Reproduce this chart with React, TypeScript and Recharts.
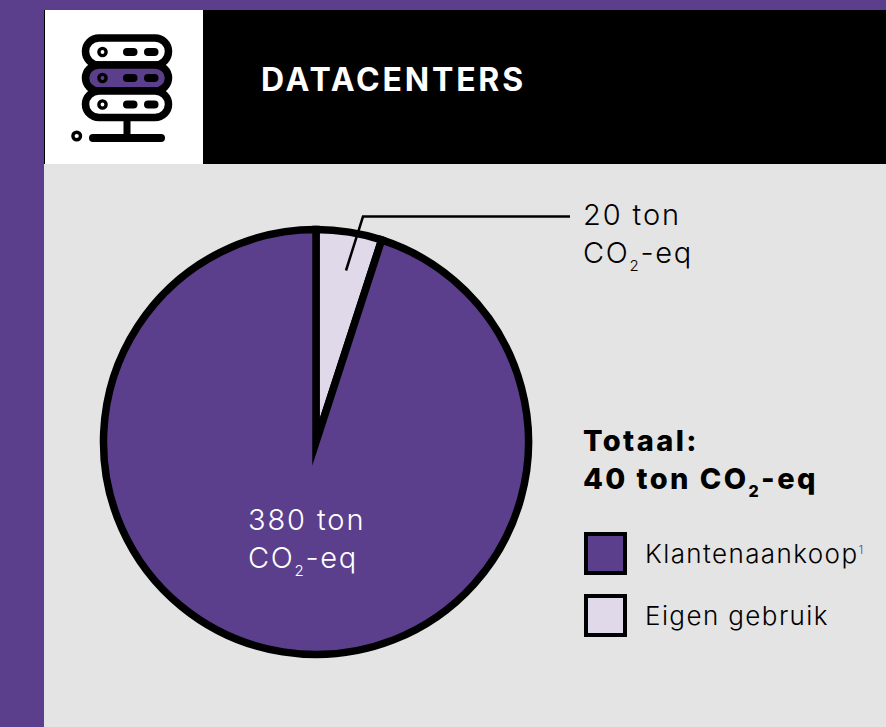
import { PieChart, Pie, Cell, Legend } from "recharts"

const PURPLE = "#5b3f8c"
const LILAC = "#dfd9ea"
const GREY = "#e4e4e4"
const FONT = "Inter, 'Open Sans', sans-serif"

const TITLE = "DATACENTERS"
const TOTAL_LINES = ["Totaal:", "40 ton"]
const UNIT = ["CO", "2", "-eq"]

// clockwise from 12 o'clock, the small slice comes first
const categories = ["Eigen gebruik", "Klantenaankoop"]
const values = [20, 380]
const colors = [LILAC, PURPLE]
const legendOrder = ["Klantenaankoop", "Eigen gebruik"]
const footnotes: Record<string, string> = { Klantenaankoop: "1" }

const data = categories.map((name, i) => ({ name, value: values[i] }))

function UnitText({ x, y, fill }: { x: number; y: number; fill: string }) {
  return (
    <text x={x} y={y} fill={fill} fontFamily={FONT} fontSize={29} fontWeight={300} letterSpacing={1.7}>
      {UNIT[0]}
      <tspan fontSize={15} dy={8}>{UNIT[1]}</tspan>
      <tspan dy={-8}>{UNIT[2]}</tspan>
    </text>
  )
}

function renderLabel(props: any) {
  const { cx, cy, index, value } = props
  if (index === 0) {
    return (
      <g>
        <polyline
          points={`${cx + 30},${cy - 171.5} ${cx + 47},${cy - 225.5} ${cx + 254},${cy - 225.5}`}
          fill="none"
          stroke="#000"
          strokeWidth={2.5}
        />
        <text x={cx + 267} y={cy - 217} fill="#000" fontFamily={FONT} fontSize={29} fontWeight={300} letterSpacing={1.9}>
          {value} ton
        </text>
        <UnitText x={cx + 267} y={cy - 179} fill="#000" />
      </g>
    )
  }
  return (
    <g>
      <text x={cx - 68} y={cy + 88} fill="#fff" fontFamily={FONT} fontSize={29} fontWeight={300} letterSpacing={1.9}>
        {value} ton
      </text>
      <UnitText x={cx - 68} y={cy + 126} fill="#fff" />
    </g>
  )
}

function SideLegend() {
  return (
    <div style={{ position: "relative", width: 886, height: 727, fontFamily: FONT, color: "#000" }}>
      <div style={{ position: "absolute", left: 583, top: 422, fontSize: 29, fontWeight: 800, lineHeight: "38px", letterSpacing: 2.4, whiteSpace: "nowrap" }}>
        <div>{TOTAL_LINES[0]}</div>
        <div>
          {TOTAL_LINES[1]} {UNIT[0]}
          <span style={{ fontSize: 16, position: "relative", top: 8 }}>{UNIT[1]}</span>
          {UNIT[2]}
        </div>
      </div>
      {legendOrder.map((name, i) => (
        <div key={name} style={{ position: "absolute", left: 584, top: 532 + i * 61.5, height: 43, display: "flex", alignItems: "center" }}>
          <div
            style={{
              width: 43,
              height: 43,
              boxSizing: "border-box",
              border: "4px solid #000",
              background: colors[categories.indexOf(name)],
            }}
          />
          <span style={{ marginLeft: 18, fontSize: 26, fontWeight: 300, letterSpacing: 1.4, whiteSpace: "nowrap" }}>
            {name}
            {footnotes[name] && (
              <span style={{ fontSize: 12, color: PURPLE, letterSpacing: 0, position: "relative", top: -9 }}>{footnotes[name]}</span>
            )}
          </span>
        </div>
      ))}
    </div>
  )
}

function ServerIcon() {
  const racks = [
    { y: 38, h: 27, fill: "#fff", dot: 52 },
    { y: 65, h: 26, fill: PURPLE, dot: 78 },
    { y: 91, h: 26.5, fill: "#fff", dot: 104.5 },
  ]
  return (
    <svg width={886} height={164} style={{ position: "absolute", left: 0, top: 0 }}>
      {racks.map((r) => (
        <g key={r.y}>
          <rect x={85.5} y={r.y} width={83} height={r.h} rx={13.5} fill={r.fill} stroke="#000" strokeWidth={7.5} />
          <circle cx={102.5} cy={r.dot} r={3.6} fill="none" stroke="#000" strokeWidth={3.4} />
          <rect x={123} y={r.dot - 4} width={14.5} height={8} rx={4} fill="#000" />
          <rect x={144} y={r.dot - 4} width={14.5} height={8} rx={4} fill="#000" />
        </g>
      ))}
      <rect x={123.5} y={118} width={7} height={20} fill="#000" />
      <rect x={89} y={134} width={76} height={8} rx={4} fill="#000" />
      <circle cx={76.7} cy={136} r={3.8} fill="none" stroke="#000" strokeWidth={3.4} />
    </svg>
  )
}

export default function App() {
  return (
    <div style={{ position: "absolute", left: 0, top: 0, width: 886, height: 727, overflow: "hidden", background: PURPLE }}>
      <div style={{ position: "absolute", left: 44, top: 164, width: 842, height: 563, background: GREY }} />
      <div style={{ position: "absolute", left: 44, top: 10, width: 842, height: 154, background: "#000" }} />
      <div style={{ position: "absolute", left: 45, top: 10, width: 158, height: 154, background: "#fff" }} />
      <ServerIcon />
      <div style={{ position: "absolute", left: 261, top: 60, fontFamily: FONT, fontSize: 32, fontWeight: 700, lineHeight: "40px", letterSpacing: 2.8, color: "#fff", whiteSpace: "nowrap" }}>
        {TITLE}
      </div>
      <div style={{ position: "absolute", left: 0, top: 0 }}>
        <PieChart width={886} height={727} margin={{ top: 0, right: 0, bottom: 0, left: 0 }}>
          <Pie
            data={data}
            dataKey="value"
            nameKey="name"
            cx={316}
            cy={442}
            innerRadius={0}
            outerRadius={212.5}
            startAngle={90}
            endAngle={-270}
            stroke="#000"
            strokeWidth={7.5}
            strokeMiterlimit={10}
            label={renderLabel}
            labelLine={false}
            isAnimationActive={false}
          >
            {data.map((d, i) => (
              <Cell key={d.name} fill={colors[i]} stroke="#000" strokeWidth={7.5} />
            ))}
          </Pie>
          <Legend content={<SideLegend />} wrapperStyle={{ left: 0, top: 0, width: 886, height: 727 }} />
        </PieChart>
      </div>
    </div>
  )
}
